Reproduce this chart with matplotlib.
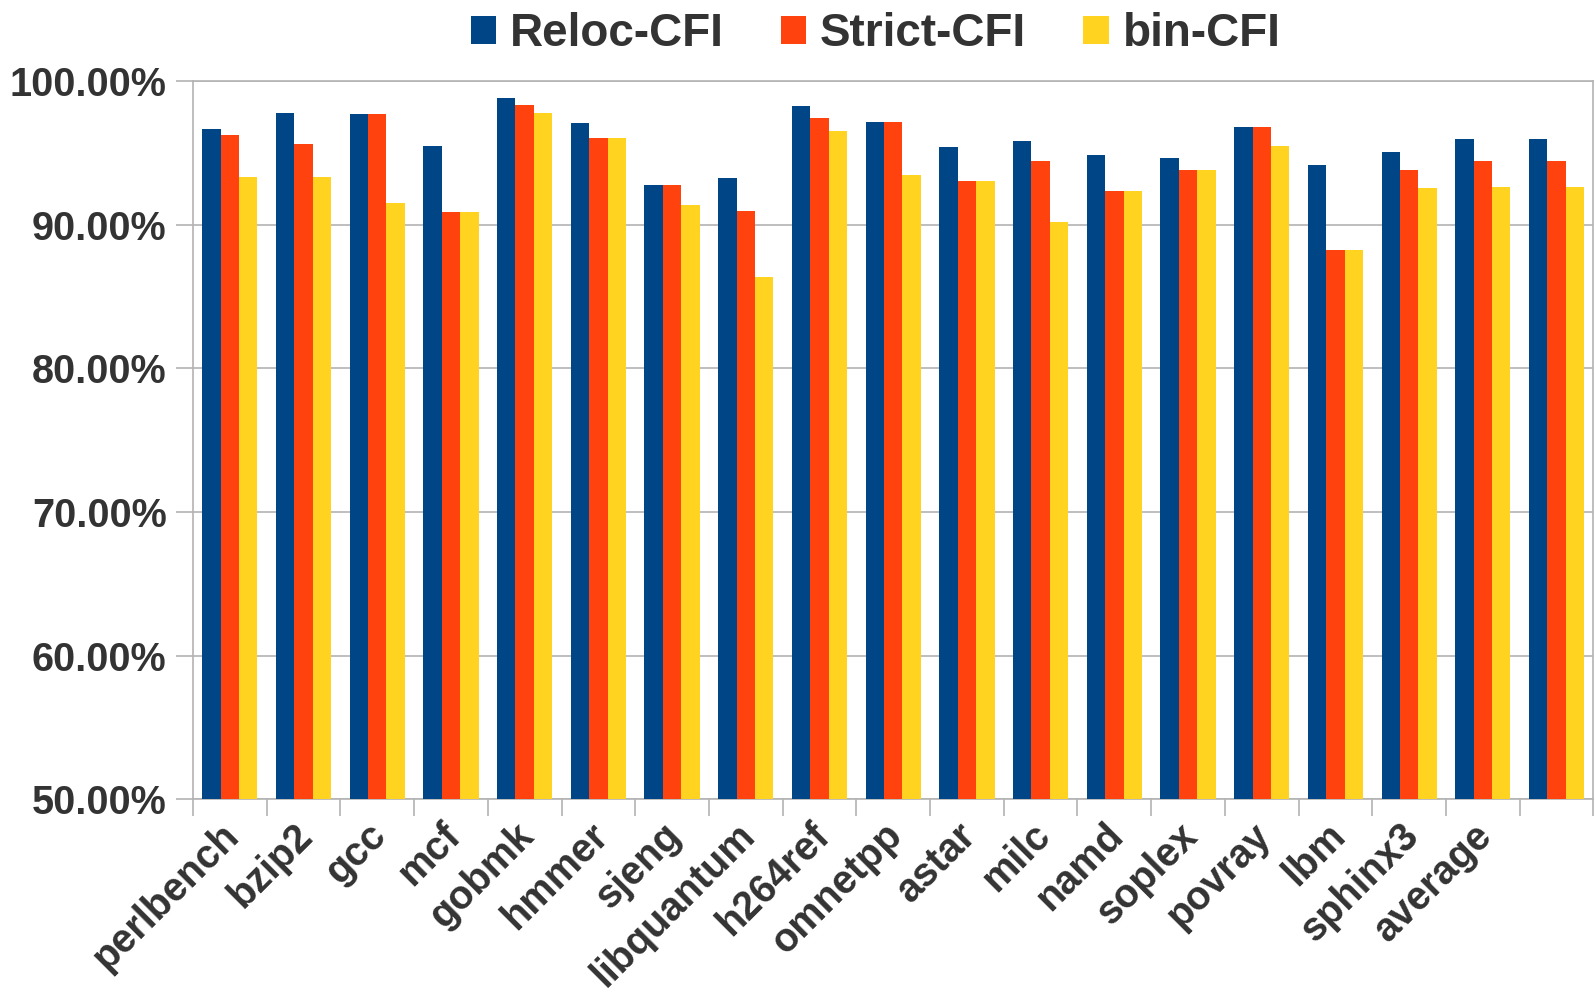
import matplotlib
matplotlib.use("Agg")
import matplotlib.pyplot as plt
import matplotlib.transforms as mtransforms
import numpy as np

# benchmark names (last group in the original has no label)
benchmarks = ['perlbench', 'bzip2', 'gcc', 'mcf', 'gobmk', 'hmmer', 'sjeng',
              'libquantum', 'h264ref', 'omnetpp', 'astar', 'milc', 'namd',
              'soplex', 'povray', 'lbm', 'sphinx3', 'average', '']

reloc_cfi = [96.64, 97.79, 97.68, 95.47, 98.84, 97.05, 92.76, 93.22, 98.28, 97.17,
             95.38, 95.84, 94.85, 94.66, 96.78, 94.15, 95.03, 95.96, 95.96]
strict_cfi = [96.24, 95.61, 97.68, 90.90, 98.33, 96.01, 92.76, 90.95, 97.40, 97.17,
              93.06, 94.43, 92.30, 93.80, 96.78, 88.23, 93.80, 94.45, 94.45]
bin_cfi = [93.29, 93.34, 91.48, 90.90, 97.75, 96.01, 91.36, 86.37, 96.54, 93.45,
           93.06, 90.20, 92.30, 93.80, 95.47, 88.23, 92.53, 92.64, 92.64]

series_names = ['Reloc-CFI', 'Strict-CFI', 'bin-CFI']
colors = ['#004586', '#ff420e', '#ffd320']

FONT = ['Liberation Sans', 'DejaVu Sans']
TXT = '#333333'

fig = plt.figure(figsize=(15.95, 9.98), dpi=100)
ax = fig.add_axes([0.121, 0.199, 0.878, 0.72])

n = len(benchmarks)
x = np.arange(n) + 0.5
w = 0.25
for k, vals in enumerate([reloc_cfi, strict_cfi, bin_cfi]):
    ax.bar(x + (k - 1) * w, vals, width=w, color=colors[k], label=series_names[k],
           zorder=3, linewidth=0)

ax.set_xlim(0, n)
ax.set_ylim(50, 100)
ax.set_yticks(np.arange(50, 101, 10))
ax.set_yticklabels(['%.2f%%' % v for v in np.arange(50, 101, 10)],
                   fontsize=28.5, fontweight='bold', color=TXT, family=FONT)
ax.yaxis.grid(True, color='#b3b3b3', linewidth=1.2, zorder=0)
ax.tick_params(axis='y', length=12, width=1.2, color='#b3b3b3', pad=7)

# boundary ticks without labels, labels at group centres
ax.set_xticks(np.arange(0, n + 1))
ax.set_xticklabels([])
ax.tick_params(axis='x', which='major', length=12, width=1.2, color='#b3b3b3')
ax.set_xticks(x, minor=True)
ax.set_xticklabels(benchmarks, minor=True, rotation=45, ha='right', va='top',
                   rotation_mode='anchor', fontsize=28.5, fontweight='bold',
                   color=TXT, family=FONT)
ax.tick_params(axis='x', which='minor', length=0, pad=12)
shift = mtransforms.ScaledTranslation(-0.1, 0, fig.dpi_scale_trans)
for lab in ax.get_xticklabels(minor=True):
    lab.set_transform(lab.get_transform() + shift)

for s in ax.spines.values():
    s.set_color('#b3b3b3')
    s.set_linewidth(1.2)

leg = fig.legend(loc='center', bbox_to_anchor=(0.549, 0.966), ncol=3, frameon=False,
                 prop={'family': FONT, 'weight': 'bold', 'size': 33},
                 handlelength=0.55, handleheight=0.55, handletextpad=0.3,
                 columnspacing=1.25)
for t in leg.get_texts():
    t.set_color(TXT)

fig.savefig('out.png', dpi=100)
